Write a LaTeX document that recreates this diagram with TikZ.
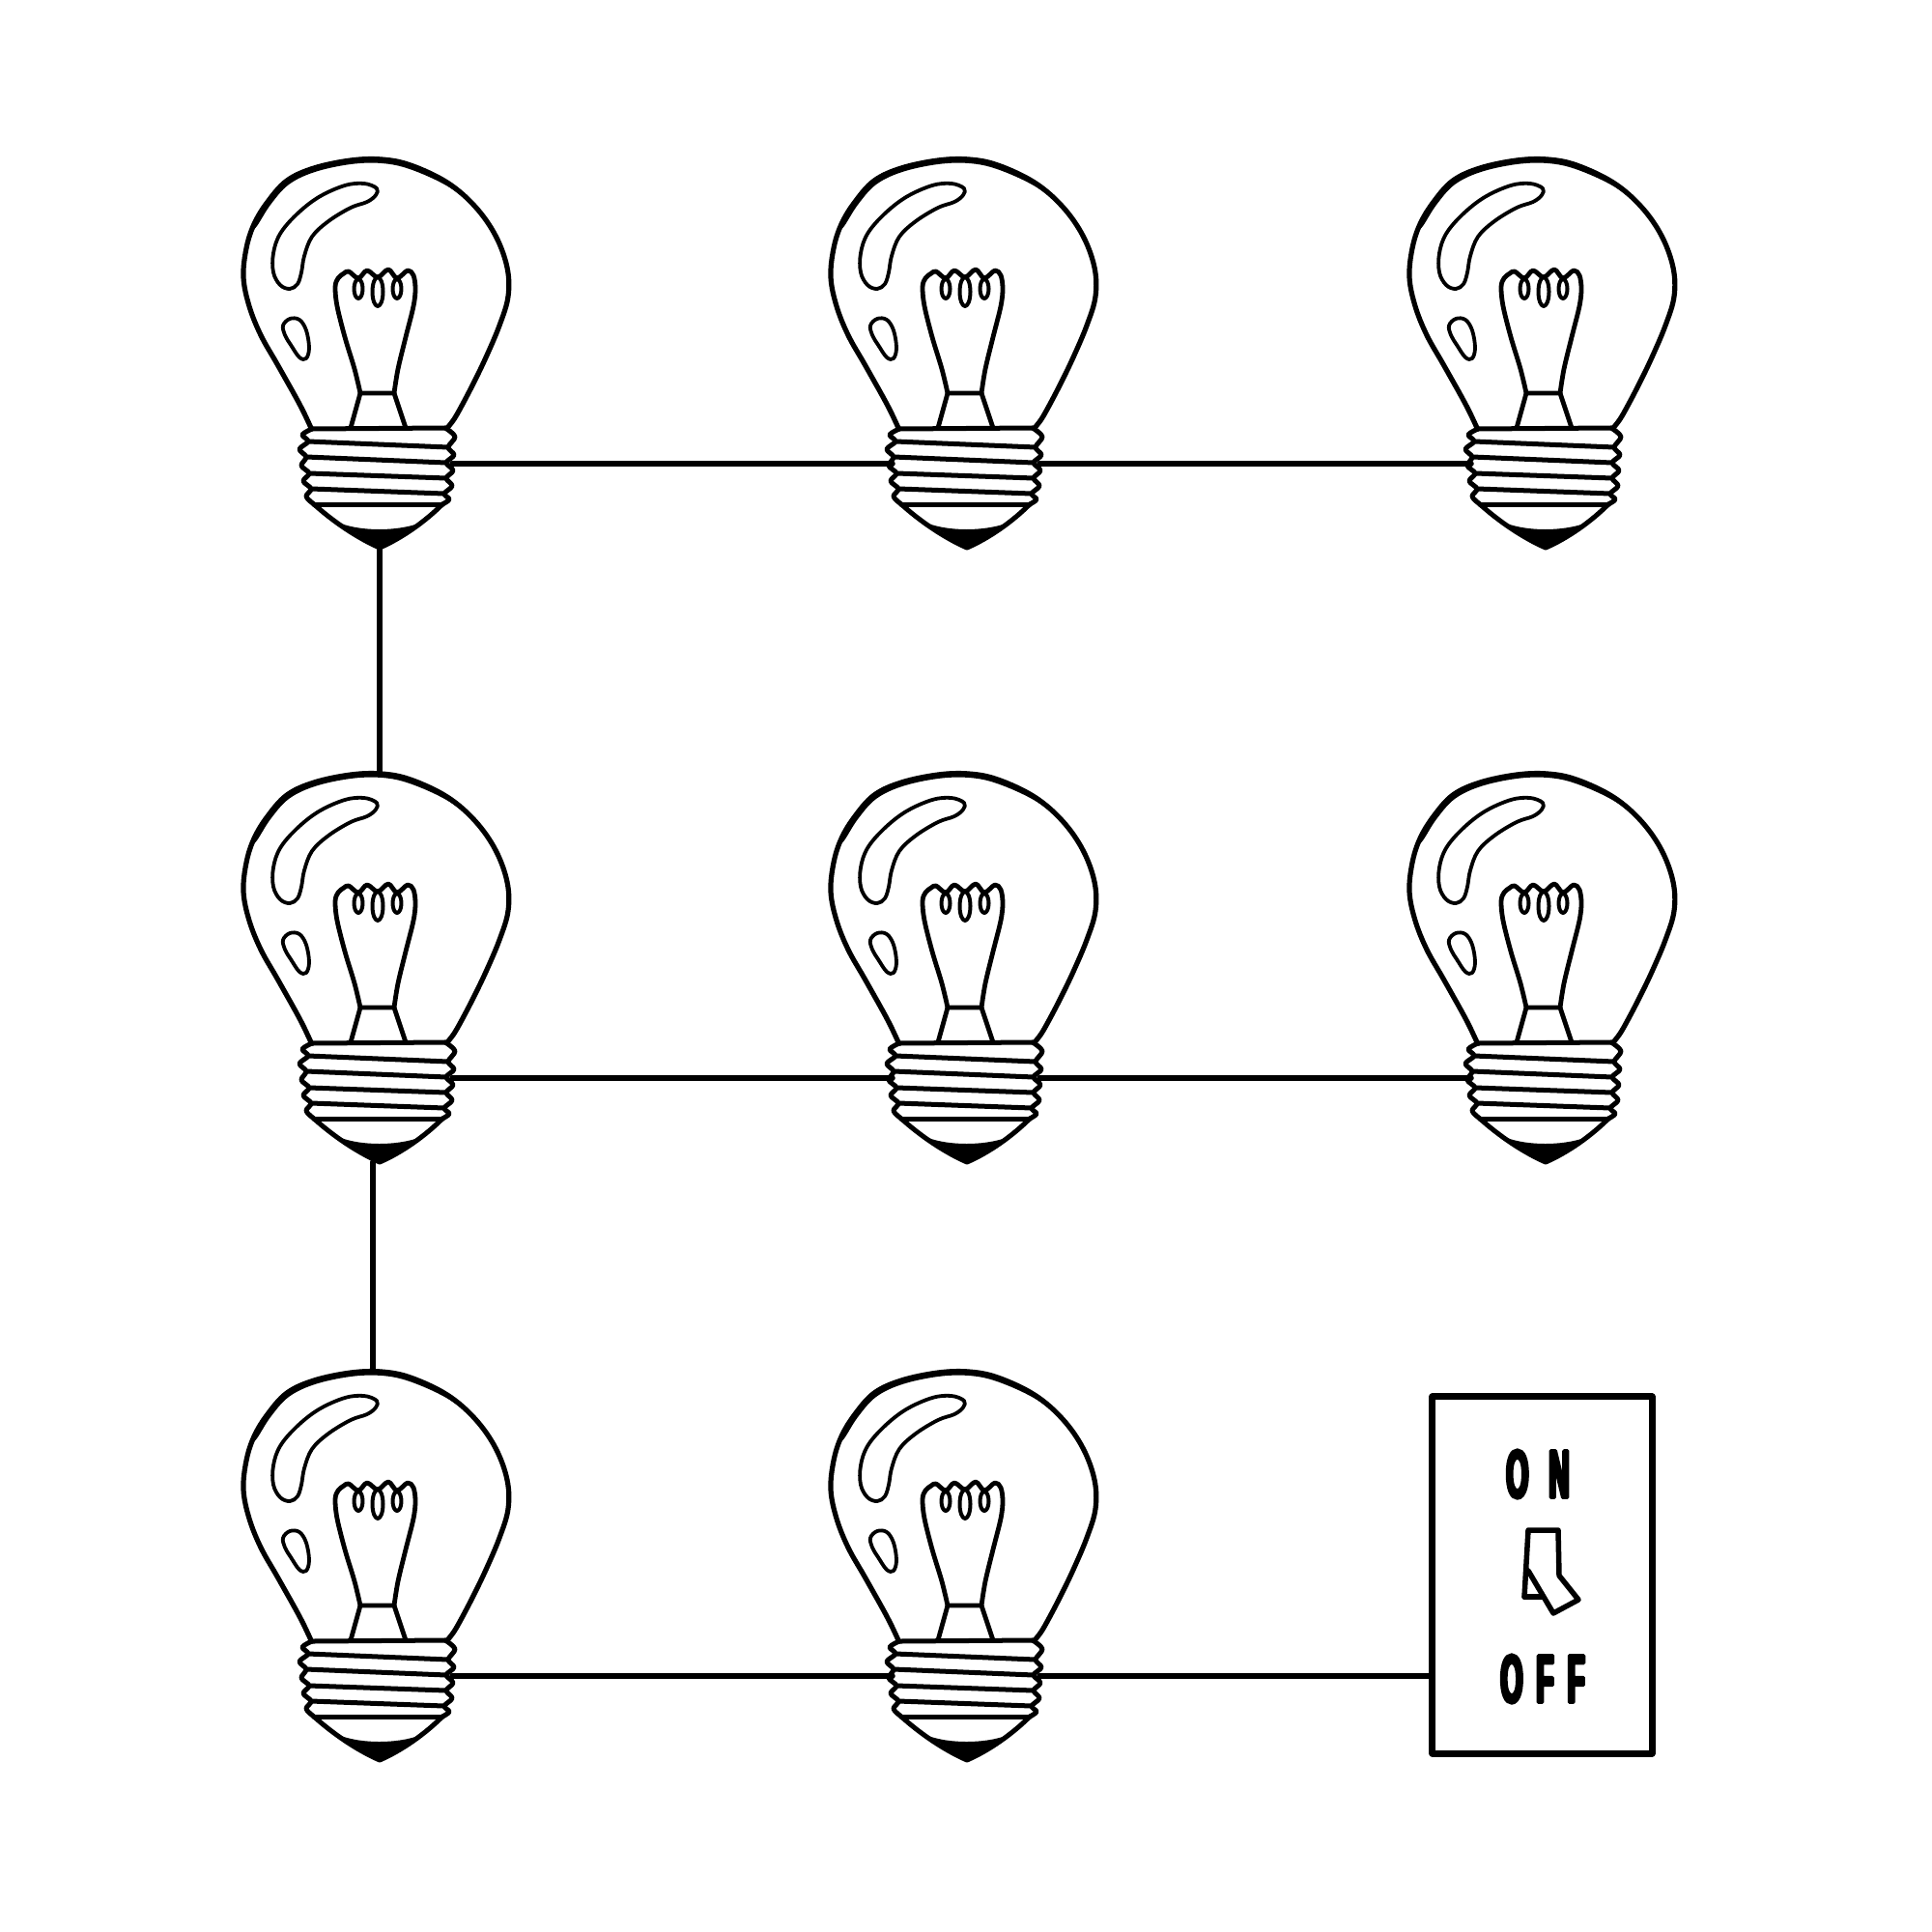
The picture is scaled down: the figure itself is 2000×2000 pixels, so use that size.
\documentclass[tikz,border=0pt]{standalone}
\usepackage{fontspec}
\newfontfamily\swfont[UprightFont=* Bold, FakeStretch=0.42, FakeBold=5]{Liberation Sans}
\tikzset{
  glass/.style={line width=0.052cm},
  thin/.style={line width=0.038cm},
  thread/.style={line width=0.05cm},
  wire/.style={line width=0.055cm},
  bulb/.pic={
    % glass outline
    \draw[glass] plot[smooth, tension=0.6] coordinates {(92,301) (84,284) (75,267) (57,235) (40,205) (28,175) (22,145) (25,115) (33,90) (47,67) (67,45) (95,32) (133,24) (165,23) (195,29) (233,47) (262,72) (283,102) (295,135) (296,165) (287,195) (273,228) (260,255) (248,278) (240,292) (233,301)};
    \fill plot[smooth, tension=0.6] coordinates {(28,100) (33,90) (46,66) (66,43) (95,30) (133,22) (165,21) (195,27) (233,46) (262,72)}
      -- plot[smooth, tension=0.6] coordinates {(262,72) (232,50) (194,33) (165,27) (133,28) (96,36) (69,49) (50,70) (36,92) (28,100)} -- cycle;
    % highlights
    \draw[thin] plot[smooth cycle, tension=0.6] coordinates {(160,53) (147,48) (127,50) (100,62) (77,80) (60,100) (53,120) (53,140) (60,153) (70,157) (78,152) (82,140) (85,123) (93,103) (110,87) (133,73) (150,67) (159,60)};
    \draw[thin] plot[smooth cycle, tension=0.6] coordinates {(63,195) (70,188) (80,189) (87,200) (90,218) (87,229) (80,228) (71,215) (65,205)};
    % stem and filament
    \draw[line width=0.048cm] plot[smooth, tension=0.55] coordinates {(143,265) (137,240) (127,207) (119,175) (117,155) (120,146) (126,141) (131,139) (141,146) (150,138) (161,145) (172,137) (181,146) (192,138) (198,143) (200,157) (198,175) (190,207) (182,240) (178,265)};
    \draw[line width=0.04cm] (141,157) ellipse [x radius=4.5, y radius=10];
    \draw[line width=0.04cm] (161,160) ellipse [x radius=5.5, y radius=15];
    \draw[line width=0.04cm] (181,157) ellipse [x radius=4.5, y radius=10];
    \draw[line width=0.048cm] (133,301) -- (143,265) -- (178,265) -- (190,301);
    % screw base
    \draw[thread] (93,302) -- (231,301);
    \draw[thread] (89,315) -- (234,321);
    \draw[thread] (87,331) -- (232,337);
    \draw[thread] (90,348) -- (232,353);
    \draw[thread] (92,364) -- (230,369);
    \draw[thread] (95,380) -- (228,380);
    \draw[thread] plot[smooth, tension=0.55] coordinates {(93,302) (83,308) (89,315) (80,323) (87,331) (82,340) (90,348) (84,356) (92,364) (87,372) (95,380)};
    \draw[thread] plot[smooth, tension=0.55] coordinates {(231,301) (241,310) (234,321) (240,329) (232,337) (239,345) (232,353) (238,361) (230,369) (235,375) (228,380)};
    \draw[thread] (95,380) .. controls (115,398) and (140,415) .. (163,425) .. controls (186,415) and (210,398) .. (228,380);
    \fill (123,400) .. controls (145,408) and (180,408) .. (203,400) -- (163,425) -- cycle;
    % anchors
    \coordinate (-l) at (86,338);
    \coordinate (-r) at (238,338);
    \coordinate (-tip) at (163,425);
    \coordinate (-top) at (163,23);
  }
}
\begin{document}
\begin{tikzpicture}[x=0.01cm, y=-0.01cm, line join=round, line cap=round]
\fill[white] (0,0) rectangle (2000,2000);
\useasboundingbox (0,0) rectangle (2000,2000);
\pic (b1) at (230,142) {bulb};
\pic (b2) at (838,142) {bulb};
\pic (b3) at (1437,142) {bulb};
\pic (b4) at (230,778) {bulb};
\pic (b5) at (838,778) {bulb};
\pic (b6) at (1437,778) {bulb};
\pic (b7) at (230,1397) {bulb};
\pic (b8) at (838,1397) {bulb};
% switch
\node[draw, line width=0.07cm, minimum width=2.27cm, minimum height=3.69cm, inner sep=0pt] (sw) at (1596.5,1630.5) {};
\node[inner sep=0pt, font=\swfont\fontsize{20}{20}\selectfont] (on) at (1592,1526) {O\kern6pt N};
\node[inner sep=0pt, font=\swfont\fontsize{20}{20}\selectfont] (off) at (1597,1738) {O\kern4pt F\kern4pt F};
\draw[line width=0.055cm] (1578,1653) -- (1582,1584) -- (1613,1584) -- (1614,1631) -- (1634,1656) -- (1608,1670) -- (1582,1626);
\draw[line width=0.055cm] (1578,1653) -- (1597,1653);
% wires
\draw[wire] (b1-r) -- (b2-l);
\draw[wire] (b2-r) -- (b3-l);
\draw[wire] (b4-r) -- (b5-l);
\draw[wire] (b5-r) -- (b6-l);
\draw[wire] (b7-r) -- (b8-l);
\draw[wire] (b8-r) -- (b8-r -| sw.west);
\draw[wire] (b1-tip) -- (b4-top);
\draw[wire] ([xshift=-0.07cm]b4-tip) -- ([xshift=-0.07cm]b7-top);
\end{tikzpicture}
\end{document}
